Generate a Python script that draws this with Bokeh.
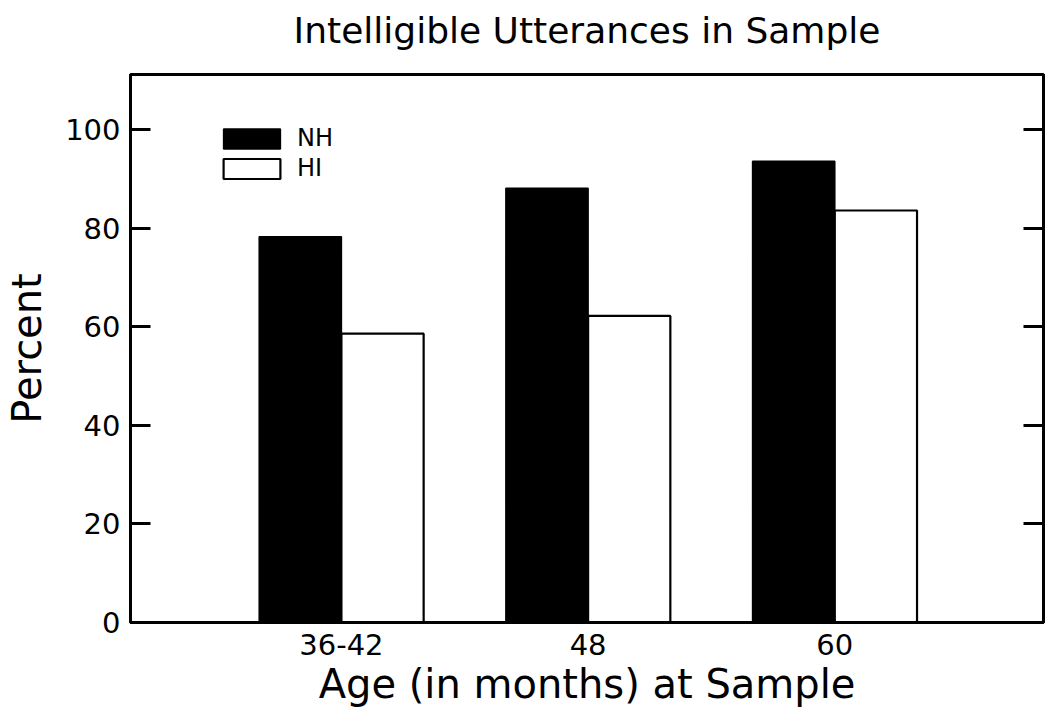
from bokeh.plotting import figure
from bokeh.models import (ColumnDataSource, Range1d, FixedTicker, LinearAxis,
                          Legend, LegendItem)
from bokeh.embed import file_html
from bokeh.resources import INLINE

title_text = "Intelligible Utterances in Sample"
categories = ["36-42", "48", "60"]
nh_values = [78.3, 88.1, 93.6]
hi_values = [58.6, 62.2, 83.6]
y_ticks = [0, 20, 40, 60, 80, 100]

FONT = "DejaVu Sans"
BAR_W = 1 / 3

xs = list(range(1, len(categories) + 1))
src_nh = ColumnDataSource(dict(x=[v - BAR_W / 2 for v in xs], top=nh_values))
src_hi = ColumnDataSource(dict(x=[v + BAR_W / 2 for v in xs], top=hi_values))

p = figure(width=1046, height=712, output_backend="svg", toolbar_location=None,
           x_range=Range1d(0.145, 3.846), y_range=Range1d(0, 111.2),
           min_border_left=130, min_border_right=3, min_border_top=74,
           min_border_bottom=90)

r_nh = p.vbar(x="x", top="top", width=BAR_W, source=src_nh,
              fill_color="black", line_color="black", line_width=1.5)
r_hi = p.vbar(x="x", top="top", width=BAR_W, source=src_hi,
              fill_color="white", line_color="black", line_width=2.2)

p.grid.visible = False
p.background_fill_color = "white"
p.outline_line_color = "black"
p.outline_line_width = 3

# bottom x axis (grab it before any top axis is added)
xa = p.below[0]
xa.ticker = FixedTicker(ticks=xs)
xa.major_label_overrides = {x: c for x, c in zip(xs, categories)}
xa.major_tick_in = 0
xa.major_tick_out = 0
xa.minor_tick_line_color = None
xa.axis_line_width = 3
xa.major_label_text_font = FONT
xa.major_label_text_font_size = "29px"
xa.major_label_text_color = "black"
xa.major_label_standoff = 11
xa.axis_label = "Age (in months) at Sample"
xa.axis_label_text_font = FONT
xa.axis_label_text_font_size = "40px"
xa.axis_label_text_font_style = "normal"
xa.axis_label_text_color = "black"
xa.axis_label_standoff = 3

# left y axis
ya = p.left[0]
ya.ticker = FixedTicker(ticks=y_ticks)
ya.major_tick_in = 20
ya.major_tick_out = 0
ya.major_tick_line_width = 3
ya.minor_tick_line_color = None
ya.axis_line_width = 3
ya.major_label_text_font = FONT
ya.major_label_text_font_size = "29px"
ya.major_label_text_color = "black"
ya.major_label_standoff = 10
ya.axis_label = "Percent"
ya.axis_label_text_font = FONT
ya.axis_label_text_font_size = "40px"
ya.axis_label_text_font_style = "normal"
ya.axis_label_text_color = "black"
ya.axis_label_standoff = 12

# right y axis: inward ticks only
ra = LinearAxis(ticker=FixedTicker(ticks=y_ticks), major_tick_in=20,
                major_tick_out=0, major_tick_line_width=3,
                minor_tick_line_color=None, axis_line_width=3,
                major_label_text_color=None, major_label_text_font_size="0px",
                major_label_standoff=0)
p.add_layout(ra, "right")

# title: drawn as the label of an invisible top axis (exact vertical placement)
ta = LinearAxis(axis_label=title_text, bounds=(1.0, 2.866),
                ticker=FixedTicker(ticks=[]), major_tick_in=0,
                major_tick_out=0, minor_tick_line_color=None,
                axis_line_color=None, major_label_text_font_size="0px",
                major_label_standoff=0, axis_label_standoff=24,
                axis_label_text_font=FONT, axis_label_text_font_size="36px",
                axis_label_text_font_style="normal",
                axis_label_text_color="black")
p.add_layout(ta, "above")

legend = Legend(items=[LegendItem(label="NH", renderers=[r_nh]),
                       LegendItem(label="HI", renderers=[r_hi])],
                location=(86, 440), glyph_width=71, glyph_height=25,
                label_height=28, spacing=2, padding=0, margin=0,
                label_standoff=10, label_text_font=FONT,
                label_text_font_size="24px", label_text_color="black",
                border_line_color=None, background_fill_alpha=0)
p.add_layout(legend, "center")

open("out.html", "w").write(file_html(p, INLINE))
